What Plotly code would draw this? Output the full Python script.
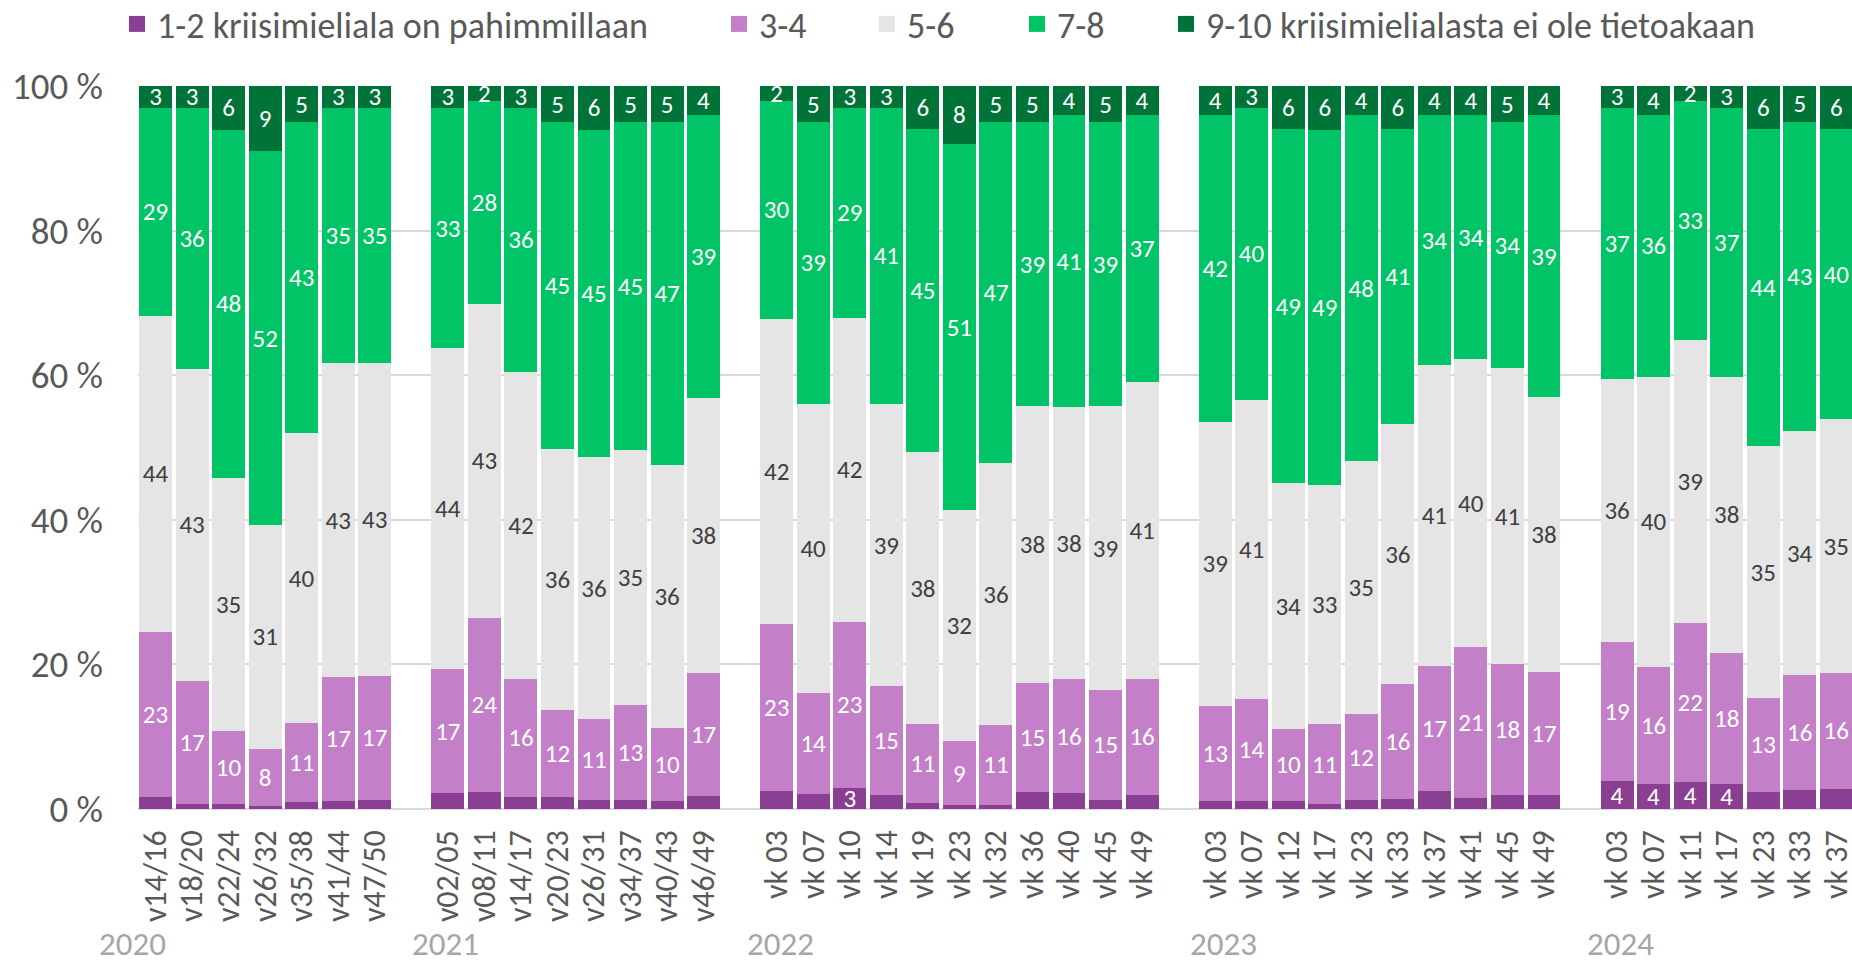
import plotly.graph_objects as go

# ---------------- data ----------------
years = ["2020", "2021", "2022", "2023", "2024"]
weeks_2020 = ["v14/16", "v18/20", "v22/24", "v26/32", "v35/38", "v41/44", "v47/50"]
weeks_2021 = ["v02/05", "v08/11", "v14/17", "v20/23", "v26/31", "v34/37", "v40/43", "v46/49"]
weeks_2022 = ["vk 03", "vk 07", "vk 10", "vk 14", "vk 19", "vk 23", "vk 32", "vk 36", "vk 40", "vk 45", "vk 49"]
weeks_2023 = ["vk 03", "vk 07", "vk 12", "vk 17", "vk 23", "vk 33", "vk 37", "vk 41", "vk 45", "vk 49"]
weeks_2024 = ["vk 03", "vk 07", "vk 11", "vk 17", "vk 23", "vk 33", "vk 37"]

series_names = ["1-2 kriisimieliala on pahimmillaan", "3-4", "5-6", "7-8",
                "9-10 kriisimielialasta ei ole tietoakaan"]

v_1_2 = [1.7, 0.7, 0.7, 0.4, 0.9, 1.1, 1.3,
         2.2, 2.3, 1.7, 1.6, 1.3, 1.3, 1.1, 1.8,
         2.5, 2.1, 2.9, 2.0, 0.8, 0.5, 0.6, 2.3, 2.2, 1.3, 2.0,
         1.1, 1.1, 1.1, 0.7, 1.2, 1.4, 2.5, 1.5, 2.0, 1.9,
         3.8, 3.5, 3.7, 3.5, 2.4, 2.6, 2.8]
v_3_4 = [23, 17, 10, 8, 11, 17, 17,
         17, 24, 16, 12, 11, 13, 10, 17,
         23, 14, 23, 15, 11, 9, 11, 15, 16, 15, 16,
         13, 14, 10, 11, 12, 16, 17, 21, 18, 17,
         19, 16, 22, 18, 13, 16, 16]
v_5_6 = [44, 43, 35, 31, 40, 43, 43,
         44, 43, 42, 36, 36, 35, 36, 38,
         42, 40, 42, 39, 38, 32, 36, 38, 38, 39, 41,
         39, 41, 34, 33, 35, 36, 41, 40, 41, 38,
         36, 40, 39, 38, 35, 34, 35]
v_7_8 = [29, 36, 48, 52, 43, 35, 35,
         33, 28, 36, 45, 45, 45, 47, 39,
         30, 39, 29, 41, 45, 51, 47, 39, 41, 39, 37,
         42, 40, 49, 49, 48, 41, 34, 34, 34, 39,
         37, 36, 33, 37, 44, 43, 40]
v_9_10 = [3, 3, 6, 9, 5, 3, 3,
          3, 2, 3, 5, 6, 5, 5, 4,
          2, 5, 3, 3, 6, 8, 5, 5, 4, 5, 4,
          4, 3, 6, 6, 4, 6, 4, 4, 5, 4,
          3, 4, 2, 3, 6, 5, 6]

y_ticks = [0, 20, 40, 60, 80, 100]
y_tick_labels = ["0 %", "20 %", "40 %", "60 %", "80 %", "100 %"]

# ---------------- styling ----------------
colors = ["#8B3F92", "#C380C8", "#E5E5E5", "#00C465", "#007338"]
text_colors = ["white", "white", "#404040", "white", "white"]
FONT = "Carlito, Calibri, Lato, sans-serif"
AXIS_GREY = "#595959"

W, H = 1852, 963
PLOT_LEFT, PLOT_TOP, PLOT_BOTTOM = 138, 86, 809      # px
ML, MT, MR = PLOT_LEFT, PLOT_TOP, 0
MB = H - PLOT_BOTTOM
plot_w = W - ML - MR
plot_h = H - MT - MB

year_label_xshift = [-23, -2, 4, 8, 3]              # px, relative to first bar of year
legend_text_left_px = [159, 761, 909, 1059, 1208]   # px where each legend text starts
LEGEND_CENTER_Y = 24
YEAR_CENTER_Y = 944

# positions: one empty slot between years
week_groups = [weeks_2020, weeks_2021, weeks_2022, weeks_2023, weeks_2024]
xpos, ticktext, year_first = [], [], []
pos = 0
for weeks in week_groups:
    year_first.append(pos)
    for w in weeks:
        xpos.append(pos)
        ticktext.append(w)
        pos += 1
    pos += 1

all_values = [v_1_2, v_3_4, v_5_6, v_7_8, v_9_10]
legend_ids = ["legend", "legend2", "legend3", "legend4", "legend5"]

fig = go.Figure()
for i, (name, vals) in enumerate(zip(series_names, all_values)):
    if i == 0:
        labels = [str(round(v)) if v >= 2.85 else "" for v in vals]
    else:
        labels = [str(round(v)) for v in vals]
    fig.add_trace(go.Bar(
        x=xpos, y=vals, name=name, legendgroup=name, showlegend=False,
        marker=dict(color=colors[i], line=dict(width=0)),
        text=labels, textposition="inside", insidetextanchor="middle",
        textangle=0, constraintext="none",
        textfont=dict(family=FONT, size=25, color=text_colors[i]),
        hoverinfo="skip",
    ))
    # legend entry with a larger square swatch
    fig.add_trace(go.Scatter(
        x=[None], y=[None], mode="markers", name=name, legendgroup=name,
        legend=legend_ids[i], showlegend=True,
        marker=dict(symbol="square", size=16, color=colors[i]),
        hoverinfo="skip",
    ))

year_y = -((YEAR_CENTER_Y - PLOT_BOTTOM) / plot_h)
for yr, first, shift in zip(years, year_first, year_label_xshift):
    fig.add_annotation(x=first, xshift=shift, y=year_y, xref="x", yref="paper",
                       text=yr, showarrow=False, xanchor="center", yanchor="middle",
                       font=dict(family=FONT, size=33, color="#A6A6A6"))

legend_cfg = {}
for lid, px in zip(legend_ids, legend_text_left_px):
    legend_x = px - 42
    legend_cfg[lid] = dict(
        orientation="h", x=(legend_x - ML) / plot_w, xanchor="left",
        y=(PLOT_BOTTOM - LEGEND_CENTER_Y) / plot_h, yanchor="middle",
        font=dict(family=FONT, size=36, color=AXIS_GREY),
        bgcolor="rgba(0,0,0,0)",
    )

fig.update_layout(
    width=W, height=H,
    margin=dict(l=ML, r=MR, t=MT, b=MB, autoexpand=False),
    barmode="stack", barnorm="percent", bargap=0.1,
    plot_bgcolor="white", paper_bgcolor="white",
    font=dict(family=FONT, color=AXIS_GREY),
    showlegend=True,
    xaxis=dict(range=[-0.48, 46.43], tickmode="array", tickvals=xpos, ticktext=ticktext,
               tickangle=-90, tickfont=dict(family=FONT, size=32, color=AXIS_GREY),
               showgrid=False, zeroline=False, showline=False, ticks="",
               ticklabelstandoff=14, ticklabeloverflow="allow"),
    yaxis=dict(range=[0, 100], tickmode="array", tickvals=y_ticks, ticktext=y_tick_labels,
               tickfont=dict(family=FONT, size=37, color=AXIS_GREY),
               showgrid=True, gridcolor="#D9D9D9", gridwidth=2,
               zeroline=True, zerolinecolor="#D9D9D9", zerolinewidth=2,
               showline=False, ticks="", ticklabelstandoff=34),
    **legend_cfg,
)

fig.write_html("out.html",
               config={"displayModeBar": False},
               post_script="document.body.style.margin='0';document.body.style.overflow='hidden';")
